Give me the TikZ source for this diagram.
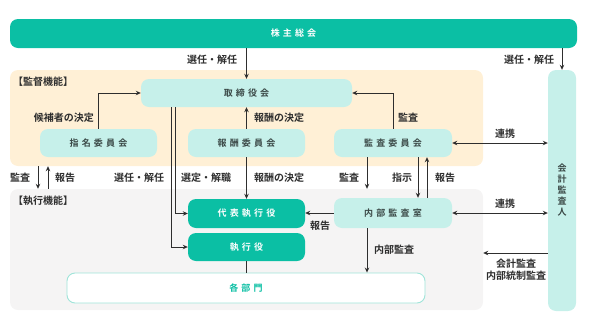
\documentclass[tikz,border=0pt]{standalone}
\usepackage{fontspec}
\setmainfont{Noto Sans CJK JP}[BoldFont={Noto Sans CJK JP Bold}]
\newfontfamily\boxfont{Noto Sans CJK JP Bold}[LetterSpace=35]
\usetikzlibrary{arrows.meta}

\definecolor{teal1}{HTML}{0BBFA4}
\definecolor{mint}{HTML}{C6F0EA}
\definecolor{beige}{HTML}{FFF0D6}
\definecolor{pale}{HTML}{F5F4F4}
\definecolor{mintline}{HTML}{9FE4D9}
\definecolor{ink}{HTML}{2E2E2E}
\definecolor{boxink}{HTML}{3B4947}

\begin{document}
\begin{tikzpicture}[x=1pt,y=-1pt,
    box/.style={rectangle, rounded corners=8pt, fill=mint, text=boxink,
        font=\boxfont\fontsize{9}{11}\selectfont, inner sep=0pt},
    darkbox/.style={box, fill=teal1, text=white},
    area/.style={rectangle, rounded corners=8pt, inner sep=0pt},
    lbl/.style={text=ink, font=\bfseries\fontsize{10}{12}\selectfont, inner sep=0pt},
    arr/.style={-{Stealth[length=5pt,width=4.5pt]}, line width=0.9pt, draw=ink},
    both/.style={{Stealth[length=5pt,width=4.5pt]}-{Stealth[length=5pt,width=4.5pt]}, line width=0.9pt, draw=ink},
    plain/.style={line width=0.9pt, draw=ink}]
        \useasboundingbox (0,0) rectangle (589,319);

        % === AREAS ===
        \node[area, fill=beige, minimum width=473pt, minimum height=96pt] (sup) at (246.5,118) {};
        \node[area, fill=pale, minimum width=473pt, minimum height=121pt] (exec) at (246.5,249.5) {};
        \node[lbl, anchor=west] (supl) at (13,82) {【監督機能】};
        \node[lbl, anchor=west] (execl) at (13,201) {【執行機能】};

        % === BOXES ===
        \node[darkbox, minimum width=567pt, minimum height=29pt] (gsm) at (293.5,33.5) {株主総会};
        \node[box, minimum width=211pt, minimum height=28pt] (board) at (246.5,93) {取締役会};
        \node[box, minimum width=117pt, minimum height=28pt] (nom) at (98.5,143) {指名委員会};
        \node[box, minimum width=117pt, minimum height=28pt] (rem) at (246.5,143) {報酬委員会};
        \node[box, minimum width=118pt, minimum height=28pt] (aud) at (393,143) {監査委員会};
        \node[box, minimum width=28pt, minimum height=241pt, align=center] (auditor) at (562,190.5) {会\\計\\監\\査\\人};
        \node[darkbox, minimum width=117pt, minimum height=29pt] (ceo) at (246.5,213.5) {代表執行役};
        \node[darkbox, minimum width=117pt, minimum height=28pt] (off) at (246.5,247) {執行役};
        \node[box, minimum width=118pt, minimum height=30pt] (ia) at (393,213) {内部監査室};
        \node[box, fill=white, draw=mintline, line width=0.9pt, text=teal1, minimum width=358pt, minimum height=30pt] (depts) at (246,288) {各部門};

        % === HELPER POINTS ===
        \coordinate (sx) at (38,0);
        \coordinate (rx) at (48,0);
        \coordinate (audx) at ([xshift=-26pt]aud.south);
        \coordinate (ay) at (548,253);

        % === ARROWS TOP ===
        \draw[arr] (gsm.south -| board) -- (board.north);
        \draw[arr] (gsm.south -| auditor) -- (auditor.north);
        \draw[arr] (nom.north) |- (board.west);
        \draw[arr] (rem.north) -- (board.south);
        \draw[arr] (aud.north) |- (board.east);
        \draw[both] (aud.east) -- (aud.east -| auditor.west);

        % === ARROWS MIDDLE ===
        \draw[arr] (sup.south -| sx) -- (exec.north -| sx);
        \draw[arr] (exec.north -| rx) -- (sup.south -| rx);
        \draw[arr] ([xshift=-71.5pt]board.south) |- (ceo.west);
        \draw[arr] ([xshift=-75.5pt]board.south) |- (off.west);
        \draw[arr] (rem.south) -- (ceo.north);
        \draw[arr] (audx) -- (audx |- exec.north);
        \draw[arr] ([xshift=25pt]aud.south) -- ([xshift=25pt]ia.north);
        \draw[arr] ([xshift=34pt]ia.north) -- ([xshift=34pt]aud.south);

        % === ARROWS BOTTOM ===
        \draw[arr] (ia.west) -- (ia.west -| ceo.east);
        \draw[both] (ia.east) -- (ia.east -| auditor.west);
        \draw[arr] (audx |- ia.south) -- (audx |- depts.north);
        \draw[arr] (ay -| auditor.west) -- (ay -| exec.east);
        \draw[plain] (off.south) -- (off.south |- depts.north);

        % === LABELS ===
        \node[lbl] (l1) at (212,60) {選任・解任};
        \node[lbl] (l2) at (529,60) {選任・解任};
        \node[lbl] (l3) at (64,118) {候補者の決定};
        \node[lbl] (l4) at (279,118) {報酬の決定};
        \node[lbl] (l5) at (408,118) {監査};
        \node[lbl] (l6) at (505,134) {連携};
        \node[lbl] (l7) at (20,178) {監査};
        \node[lbl] (l8) at (65,178) {報告};
        \node[lbl] (l9) at (139,178) {選任・解任};
        \node[lbl] (l10) at (206,178) {選定・解職};
        \node[lbl] (l11) at (279,178) {報酬の決定};
        \node[lbl] (l12) at (349,178) {監査};
        \node[lbl] (l13) at (402,178) {指示};
        \node[lbl] (l14) at (445,178) {報告};
        \node[lbl] (l15) at (505,204) {連携};
        \node[lbl] (l16) at (320,226) {報告};
        \node[lbl] (l17) at (394,250) {内部監査};
        \node[lbl, align=center] (l18) at (516,270) {会計監査\\内部統制監査};

\end{tikzpicture}
\end{document}
